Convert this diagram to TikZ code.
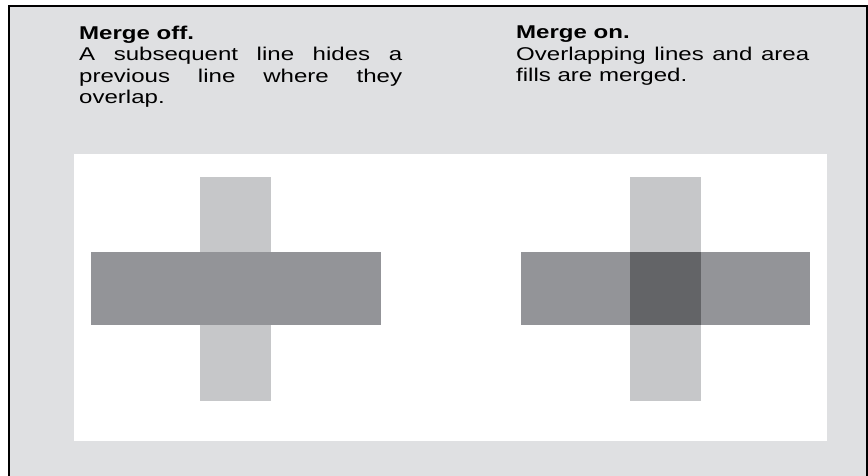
\documentclass[tikz,border=0pt]{standalone}
\usepackage{fontspec}
\setmainfont{Liberation Sans}
\newfontfamily\descfont[FakeStretch=1.3]{Liberation Sans}
\newfontfamily\headfont[FakeStretch=1.3]{Liberation Sans Bold}
\hyphenpenalty=10000

\definecolor{panelgray}{HTML}{DFE0E2}
\definecolor{barlight}{HTML}{C6C7C9}
\definecolor{barmid}{HTML}{939498}
\definecolor{bardark}{HTML}{636467}

\tikzset{
  desc/.style={anchor=north west, inner sep=0pt, text width=323pt,
    align=justify, font=\descfont\fontsize{18.5}{21.2}\selectfont}
}

\begin{document}
\begin{tikzpicture}[x=1pt, y=-1pt]

    \useasboundingbox (0,0) rectangle (868,476);

    % 1. Rahmen und Hintergrund
    \fill[panelgray] (9,6) rectangle (867,480);
    \draw[line width=1.5pt] (9,480) -- (9,6) -- (867,6) -- (867,480);
    \fill[white] (74,154) rectangle (827,441);

    % 2. Beschreibungen
    \node[desc] (offtext) at (79,26)
      {{\headfont Merge off.}\\ A subsequent line hides a previous line where they overlap.};
    \node[desc, text width=293pt] (ontext) at (516,26)
      {{\headfont Merge on.}\\ Overlapping lines and area fills are merged.};

    % 3. Kreuz ohne Verschmelzung
    \fill[barlight] (200,177) rectangle (271,401);
    \fill[barmid] (91,252) rectangle (381,325);

    % 4. Kreuz mit Verschmelzung
    \fill[barlight] (630,177) rectangle (701,401);
    \fill[barmid] (521,252) rectangle (810,325);
    \fill[bardark] (630,252) rectangle (701,325);

\end{tikzpicture}
\end{document}
